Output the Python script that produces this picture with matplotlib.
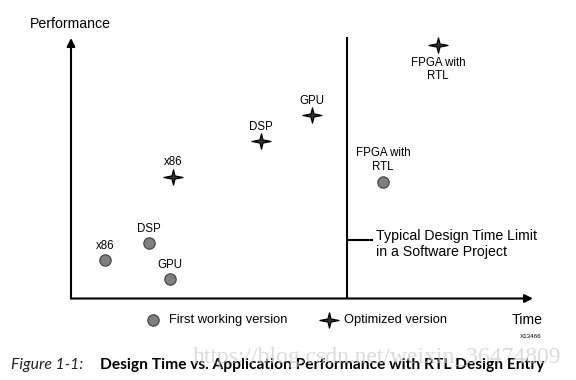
import matplotlib
matplotlib.use("Agg")
import matplotlib.pyplot as plt
from matplotlib.path import Path
import numpy as np

# design time (0-100) vs performance (0-100)
first_names = ["x86", "DSP", "GPU", "FPGA with\nRTL"]
first_time = [7.4, 16.8, 21.4, 67.6]
first_perf = [14.7, 21.2, 7.5, 44.8]

opt_names = ["x86", "DSP", "GPU", "FPGA with\nRTL"]
opt_time = [22.1, 41.1, 52.2, 79.5]
opt_perf = [46.8, 60.4, 70.4, 97.3]

limit_time = 59.7
limit_mark = 22.5

SANS = "Liberation Sans"
GRAY = "#7f7f7f"

# 4-pointed star marker
star = Path([(0, 0.8), (0.16, 0.16), (1, 0), (0.16, -0.16), (0, -0.8),
             (-0.16, -0.16), (-1, 0), (-0.16, 0.16), (0, 0.8)],
            [Path.MOVETO] + [Path.LINETO] * 7 + [Path.CLOSEPOLY])

fig = plt.figure(figsize=(5.76, 3.80), dpi=100)
ax = fig.add_axes([71/576, 81.5/380, 462/576, 260.5/380])
ax.set_xlim(0, 100)
ax.set_ylim(0, 100)
ax.axis("off")

# axes with arrow heads
arrow = dict(arrowstyle="-|>", lw=1.5, color="black", mutation_scale=12,
             shrinkA=0, shrinkB=0)
ax.annotate("", xy=(0, 100), xytext=(0, 0), arrowprops=arrow,
            annotation_clip=False)
ax.annotate("", xy=(100, 0), xytext=(0, 0), arrowprops=arrow,
            annotation_clip=False)

# design time limit
ax.plot([limit_time, limit_time], [0, 100.4], color="black", lw=1.5,
        clip_on=False, solid_capstyle="butt")
ax.plot([limit_time, 65.4], [limit_mark, limit_mark], color="black", lw=1.5,
        solid_capstyle="butt")
ax.annotate("Typical Design Time Limit\nin a Software Project",
            xy=(65.4, limit_mark), xytext=(2, -3), textcoords="offset points",
            ha="left", va="center", fontsize=10.2, family=SANS,
            linespacing=1.25)

ax.plot(first_time, first_perf, "o", ms=8.2, mfc=GRAY, mec="#404040",
        mew=0.8, clip_on=False)
ax.plot(opt_time, opt_perf, ls="none", marker=star, ms=13.7, mfc="#333333",
        mec="black", mew=0.9, clip_on=False)

for name, x, y in zip(first_names, first_time, first_perf):
    dy = 15.6 if "\n" in name else 10.2
    ax.annotate(name, (x, y), xytext=(0, dy), textcoords="offset points",
                ha="center", va="center", fontsize=8.3, family=SANS,
                linespacing=1.15)

for name, x, y in zip(opt_names, opt_time, opt_perf):
    dy = -17.8 if "\n" in name else 10.4
    ax.annotate(name, (x, y), xytext=(0, dy), textcoords="offset points",
                ha="center", va="center", fontsize=8.3, family=SANS,
                linespacing=1.15, annotation_clip=False)

fig.text(30/576, 1 - 24/380, "Performance", ha="left", va="center",
         fontsize=10.2, family=SANS)
fig.text(512/576, 1 - 320/380, "Time", ha="left", va="center",
         fontsize=10.2, family=SANS)
fig.text(520/576, 1 - 336/380, "X13466", ha="left", va="center",
         fontsize=4.5, family=SANS)

# legend
fig.add_artist(plt.Line2D([153.3/576], [1 - 320/380], marker="o", ms=8.2,
                          mfc=GRAY, mec="#404040", mew=0.8, ls="none",
                          transform=fig.transFigure))
fig.text(169/576, 1 - 320/380, "First working version", ha="left",
         va="center", fontsize=9.3, family=SANS)
fig.add_artist(plt.Line2D([329.3/576], [1 - 320/380], marker=star, ms=13.7,
                          mfc="#333333", mec="black", mew=0.9, ls="none",
                          transform=fig.transFigure))
fig.text(344/576, 1 - 320/380, "Optimized version", ha="left",
         va="center", fontsize=9.3, family=SANS)

# caption
fig.text(11/576, 1 - 365/380, "Figure 1-1:", ha="left", va="center",
         fontsize=11.3, family="Lato", style="italic", color="#222222")
fig.text(100/576, 1 - 365/380,
         "Design Time vs. Application Performance with RTL Design Entry",
         ha="left", va="center", fontsize=11.2, family="Lato",
         weight="bold")
fig.text(193/576, 1 - 357/380, "https://blog.csdn.net/weixin_36474809",
         ha="left", va="center", fontsize=17, family="Liberation Serif",
         color="#cccccc", alpha=0.7, zorder=5)

fig.savefig("out.png", dpi=100)
